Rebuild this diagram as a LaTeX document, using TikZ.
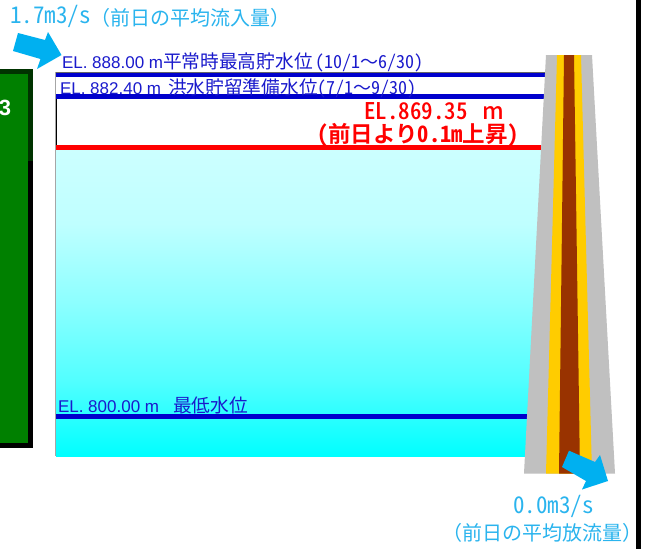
\documentclass[tikz,border=0pt]{standalone}
\usepackage{fontspec}
\setmainfont{Liberation Sans}
\newfontfamily\gothic[RawFeature={+hwid}]{Noto Sans CJK JP}
\newfontfamily\gothicm[RawFeature={+hwid}]{Noto Sans CJK JP Medium}
\newfontfamily\gothicb[RawFeature={+hwid}]{Noto Sans CJK JP Bold}
\newfontfamily\gothicp{Noto Sans CJK JP Medium}
\newfontfamily\jp{Noto Sans CJK JP}
\definecolor{flowc}{HTML}{00B0F0}
\definecolor{flowt}{HTML}{2AB4EE}
\definecolor{levelb}{HTML}{0000CC}
\definecolor{labelb}{HTML}{1A1ACC}
\definecolor{greenb}{HTML}{008000}
\definecolor{darkg}{HTML}{003300}
\definecolor{damg}{HTML}{C0C0C0}
\definecolor{damy}{HTML}{FFCC00}
\definecolor{damb}{HTML}{993300}
\definecolor{w100}{HTML}{00FFFF}
\definecolor{w68}{HTML}{52FFFF}
\definecolor{w45}{HTML}{8CFFFF}
\definecolor{w25}{HTML}{BFFFFF}
\definecolor{w20}{HTML}{CCFFFF}
\pgfdeclareverticalshading{waters}{100bp}{
 color(0bp)=(w100);
 color(25bp)=(w100);
 color(37.4bp)=(w68);
 color(50bp)=(w45);
 color(63bp)=(w25);
 color(75bp)=(w20);
 color(100bp)=(w20)}
\tikzset{
 txt/.style={inner sep=0pt,outer sep=0pt,anchor=base west},
 lvl/.style={txt,text=labelb,font=\fontsize{17}{17}\selectfont},
 flow/.style={txt,text=flowt},
 levelline/.style={draw=none,fill=levelb},
 arrowfill/.style={fill=flowc,draw=none}
}
\newcommand{\jpl}[1]{{\jp\fontsize{18.7}{18.7}\selectfont #1}}
\newcommand{\hw}[1]{{\gothic\fontsize{18}{18}\selectfont #1}}
\newcommand{\wv}{{\jp\fontsize{18}{18}\selectfont ～}}
\begin{document}
\begin{tikzpicture}[x=1pt,y=-1pt]
\useasboundingbox (0,0) rectangle (648,549);
\fill[white] (0,0) rectangle (648,549);
% right bar
\fill[black] (636,0) rectangle (641,549);
% green panel
\fill[black] (0,69) rectangle (33,448);
\fill[darkg] (0,69) rectangle (33,74);
\fill[darkg] (28,69) rectangle (33,161);
\fill[greenb] (0,74) rectangle (28,443);
\node[txt,anchor=base east,text=white,font=\fontsize{22}{22}\selectfont\bfseries] (panelnum) at (11,115) {3};
% reservoir
\fill[gray!70] (55,72) rectangle (56,456);
\draw[black,line width=.7pt] (56.5,99) -- (56.5,146);
\shade[shading=waters] (56,150) rectangle (545,456);
% levels
\fill[gray!80!black] (56,71.5) rectangle (545,73);
\fill[levelline] (56,73) rectangle (545,77);
\fill[levelline] (56,94) rectangle (544,99);
\fill[red] (56,145) rectangle (541,150);
\fill[levelline] (56,414) rectangle (530,418.5);
% dam
\fill[damg] (546,55) -- (592,55) -- (615,473.5) -- (524,473.5) -- cycle;
\fill[damy] (557,55) -- (581,55) -- (592,473.5) -- (546,473.5) -- cycle;
\fill[damb] (564,55) -- (574,55) -- (580,473.5) -- (559,473.5) -- cycle;
% arrows
\fill[arrowfill] (18,33) -- (45,40) -- (48,32) -- (61.5,55) -- (37,69) -- (40.5,59) -- (13,51) -- cycle;
\fill[arrowfill] (569,450.7) -- (595,462) -- (600,455) -- (608,481) -- (582,489.5) -- (586,481) -- (562,467) -- cycle;
% labels
\node[lvl] (l888) at (62,68) {EL. 888.00 m\jpl{平常時最高貯水位}\hspace{2.5pt}\hw{(10/1}\wv\hw{6/30)}};
\node[lvl] (l882) at (60,94) {EL. 882.40 m\hspace{7pt}\jpl{洪水貯留準備水位}\hw{(7/1}\wv\hw{9/30)}};
\node[lvl] (l800) at (58,412) {EL. 800.00 m\hspace{14pt}\jpl{最低水位}};
\node[txt,text=red,font=\gothicm\fontsize{23}{23}\selectfont] (cur1) at (364,119) {EL.869.35\hspace{15pt}{\gothicp m}};
\node[txt,text=red,font=\gothicb\fontsize{22.5}{22}\selectfont] (cur2) at (317,142) {(前日より0.1m上昇)};
\node[flow,font=\gothic\fontsize{23}{23}\selectfont] (in1) at (10,23.5) {1.7m3/s};
\node[flow,font=\jp\fontsize{20}{20}\selectfont] (in2) at (90,25) {（前日の平均流入量）};
\node[flow,font=\gothic\fontsize{23}{23}\selectfont] (out1) at (513,513) {0.0m3/s};
\node[flow,font=\jp\fontsize{20}{20}\selectfont] (out2) at (442,540) {（前日の平均放流量）};
\end{tikzpicture}
\end{document}
